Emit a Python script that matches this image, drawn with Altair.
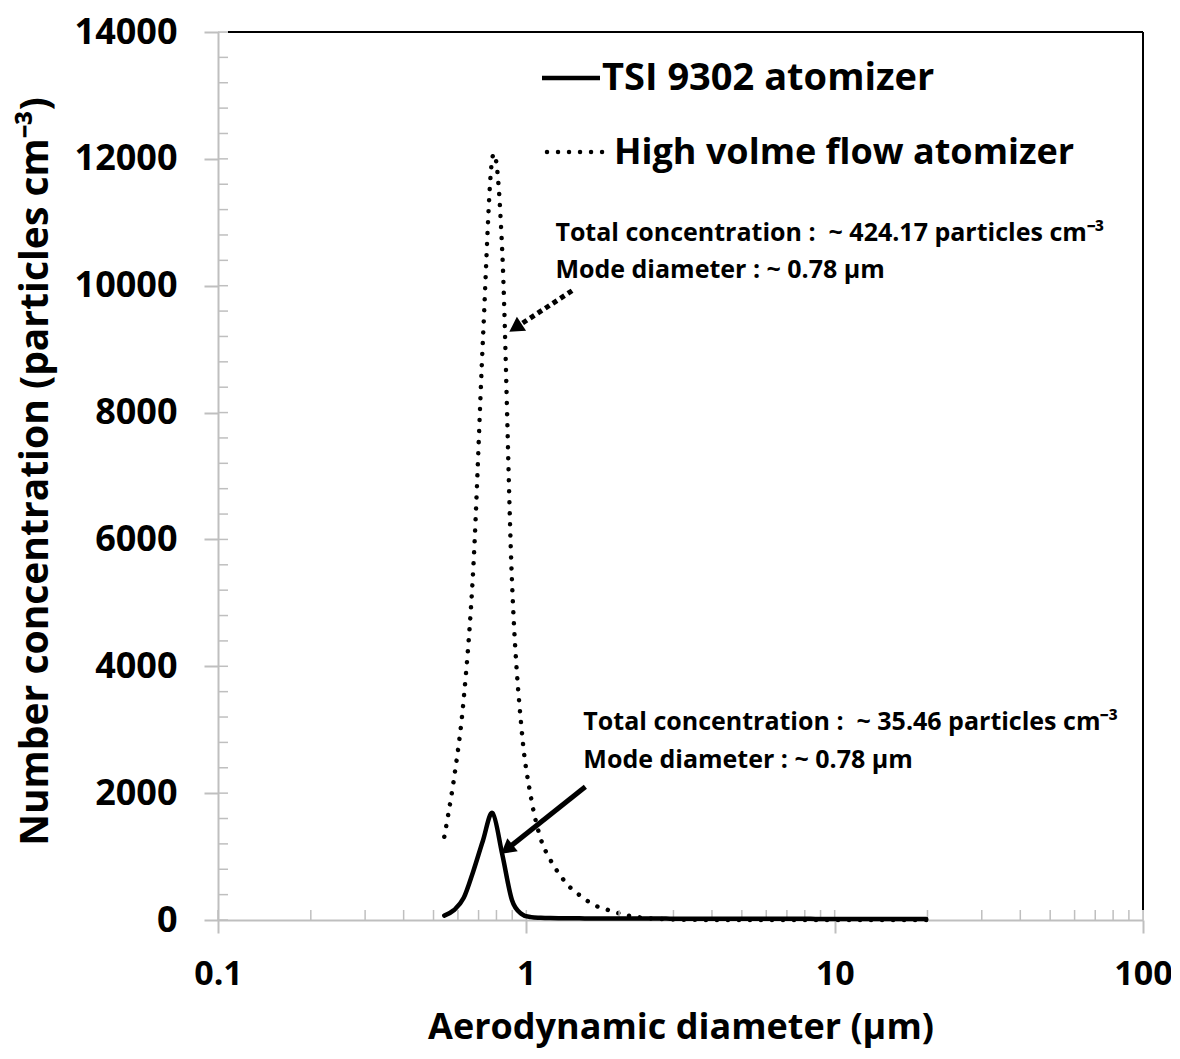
import altair as alt
import pandas as pd

# ---- data (APS size bins, um) ----
diameter = [0.542, 0.583, 0.626, 0.673, 0.723, 0.777, 0.835, 0.898, 0.965, 1.037,
            1.114, 1.197, 1.286, 1.382, 1.486, 1.596, 1.715, 1.843, 1.981, 2.129,
            2.288, 2.458, 2.642, 2.839, 3.051, 3.278, 3.523, 3.786, 4.068, 4.371,
            4.698, 5.048, 5.425, 5.829, 6.264, 6.732, 7.234, 7.774, 8.354, 8.977,
            9.647, 10.37, 11.14, 11.97, 12.86, 13.82, 14.86, 15.96, 17.15, 18.43, 19.81]

tsi_values = [70, 158, 345, 770, 1250, 1687, 1040, 315, 95, 45,
              35, 30, 28, 27, 26, 25, 25, 24, 24, 23,
              23, 22, 22, 22, 21, 21, 21, 20, 20, 20,
              20, 19, 19, 19, 19, 18, 18, 18, 18, 17,
              17, 17, 17, 16, 16, 16, 16, 15, 15, 15, 15]

high_values = [1313, 2239, 3468, 5550, 9144, 12030, 10563, 5360, 3011, 1915,
               1277, 946, 709, 520, 394, 284, 205, 158, 110, 71,
               47, 30, 20, 12, 8, 5, 3, 2, 2, 1,
               1, 1, 0, 0, 0, 0, 0, 0, 0, 0,
               0, 0, 0, 0, 0, 0, 0, 0, 0, 0, 0]

series_names = ["TSI 9302 atomizer", "High volme flow atomizer"]

x_ticks = [0.1, 1, 10, 100]
x_minor = [0.1, 0.2, 0.3, 0.4, 0.5, 0.6, 0.7, 0.8, 0.9,
           1, 2, 3, 4, 5, 6, 7, 8, 9,
           10, 20, 30, 40, 50, 60, 70, 80, 90, 100]
y_ticks = [0, 2000, 4000, 6000, 8000, 10000, 12000, 14000]
y_minor = [400 * i for i in range(36)]

annot_high = ["Total concentration :\u00A0\u00A0~ 424.17 particles cm\u207B\u00B3", "Mode diameter : ~ 0.78 \u00B5m"]
annot_high_x = [1.2425, 1.2425]
annot_high_y = [10831, 10248]
annot_tsi = ["Total concentration :\u00A0\u00A0~ 35.46 particles cm\u207B\u00B3", "Mode diameter : ~ 0.78 \u00B5m"]
annot_tsi_x = [1.531, 1.531]
annot_tsi_y = [3122, 2522]

# arrows (tail -> head) in data coordinates
arrow_high = dict(x=1.407, y=9921, x2=0.9356, y2=9358)
arrow_tsi = dict(x=1.554, y=2101, x2=0.877, y2=1140)

# ---- build ----
FONT = "Open Sans"
GRAY = "#BFBFBF"
W, H = 925, 888

xscale = alt.Scale(type="log", domain=[0.1, 100], nice=False)
yscale = alt.Scale(domain=[0, 14000], nice=False, zero=True)

x_axis = alt.Axis(values=x_ticks, format="~g", title="Aerodynamic diameter (\u00B5m)",
                  grid=False, domainColor=GRAY, domainWidth=2, tickColor=GRAY, tickWidth=2,
                  tickSize=13, labelFont=FONT, labelFontSize=34, labelFontWeight="bold",
                  labelColor="black", labelPadding=24, labelFlush=False, labelOverlap=False,
                  titleFont=FONT, titleFontSize=36, titleFontWeight="bold", titleColor="black",
                  titleX=W / 2, titleY=107, titleBaseline="middle", titleAlign="center")
y_axis = alt.Axis(values=y_ticks, format="d", title="Number concentration (particles cm\u207B\u00B3)",
                  grid=False, domainColor=GRAY, domainWidth=2, tickColor=GRAY, tickWidth=2,
                  tickSize=14, labelFont=FONT, labelFontSize=36, labelFontWeight="bold",
                  labelColor="black", labelPadding=27, labelFlush=False, labelOverlap=False,
                  titleFont=FONT, titleFontSize=39, titleFontWeight="bold", titleColor="black",
                  titleX=-183, titleY=H / 2 - 5, titleAngle=-90, titleBaseline="middle",
                  titleAlign="center")


def X(field):
    return alt.X(field, type="quantitative", scale=xscale, axis=x_axis)


def Y(field):
    return alt.Y(field, type="quantitative", scale=yscale, axis=y_axis)


df_tsi = pd.DataFrame({"d": diameter, "n": tsi_values})
df_high = pd.DataFrame({"d": diameter, "n": high_values})

high_line = alt.Chart(df_high).mark_line(
    color="black", strokeWidth=4.5, strokeDash=[0.01, 11], strokeCap="round",
    interpolate="cardinal", tension=0
).encode(x=X("d"), y=Y("n"))

tsi_line = alt.Chart(df_tsi).mark_line(
    color="black", strokeWidth=4.5, strokeCap="round", strokeJoin="round",
    interpolate="cardinal", tension=0
).encode(x=X("d"), y=Y("n"))

# inner ticks (Excel style)
x_in = alt.Chart(pd.DataFrame({"d": x_minor})).mark_rule(color=GRAY, strokeWidth=1.5).encode(
    x=X("d"), y=alt.value(H), y2=alt.value(H - 10))
y_in = alt.Chart(pd.DataFrame({"n": y_minor})).mark_rule(color=GRAY, strokeWidth=1.5).encode(
    y=Y("n"), x=alt.value(0), x2=alt.value(10))

# plot frame (top & right) in black
one = pd.DataFrame({"a": [0]})
top_border = alt.Chart(one).mark_rule(color="black", strokeWidth=2).encode(
    x=alt.value(10), x2=alt.value(W), y=alt.value(0))
right_border = alt.Chart(one).mark_rule(color="black", strokeWidth=2).encode(
    x=alt.value(W), y=alt.value(0), y2=alt.value(H - 10))

# legend drawn by hand
leg_solid = alt.Chart(one).mark_rule(color="black", strokeWidth=4.5).encode(
    x=alt.value(324), x2=alt.value(382), y=alt.value(46))
leg_dot = alt.Chart(one).mark_rule(
    color="black", strokeWidth=4.5, strokeDash=[0.01, 11], strokeCap="round").encode(
    x=alt.value(329), x2=alt.value(385), y=alt.value(120))
leg_t1 = alt.Chart(pd.DataFrame({"t": [series_names[0]]})).mark_text(
    align="left", baseline="middle", font=FONT, fontSize=38, fontWeight="bold", color="black").encode(
    x=alt.value(384), y=alt.value(47), text="t:N")
leg_t2 = alt.Chart(pd.DataFrame({"t": [series_names[1]]})).mark_text(
    align="left", baseline="middle", font=FONT, fontSize=36, fontWeight="bold", color="black").encode(
    x=alt.value(396), y=alt.value(121), text="t:N")


# annotations
def annot(texts, xs, ys):
    return alt.Chart(pd.DataFrame({"t": texts, "d": xs, "n": ys})).mark_text(
        align="left", baseline="middle", font=FONT, fontSize=25, fontWeight="bold", color="black"
    ).encode(x=X("d"), y=Y("n"), text="t:N")


ann1 = annot(annot_high, annot_high_x, annot_high_y)
ann2 = annot(annot_tsi, annot_tsi_x, annot_tsi_y)


def arrow(a, dashed, angle):
    df = pd.DataFrame({"d": [a["x"]], "n": [a["y"]], "d2": [a["x2"]], "n2": [a["y2"]]})
    kw = dict(color="black", strokeWidth=5)
    if dashed:
        kw.update(strokeDash=[5, 4])
    shaft = alt.Chart(df).mark_rule(**kw).encode(
        x=X("d"), y=Y("n"), x2="d2:Q", y2="n2:Q")
    head = alt.Chart(df).mark_point(shape="triangle", filled=True, color="black", opacity=1,
                                    size=280, angle=angle).encode(x=X("d2"), y=Y("n2"))
    return shaft + head


arr1 = arrow(arrow_high, True, 236.8)
arr2 = arrow(arrow_tsi, False, 231.6)

chart = alt.layer(
    high_line, x_in, y_in, tsi_line, top_border, right_border,
    leg_solid, leg_dot, leg_t1, leg_t2, ann1, ann2, arr1, arr2
).properties(
    width=W, height=H,
    autosize=alt.AutoSizeParams(type="none"),
    padding={"left": 210, "top": 24, "right": 28, "bottom": 131},
).configure_view(stroke=None).configure(background="white")

chart.save("out.html", embed_options={"renderer": "svg", "actions": False})
